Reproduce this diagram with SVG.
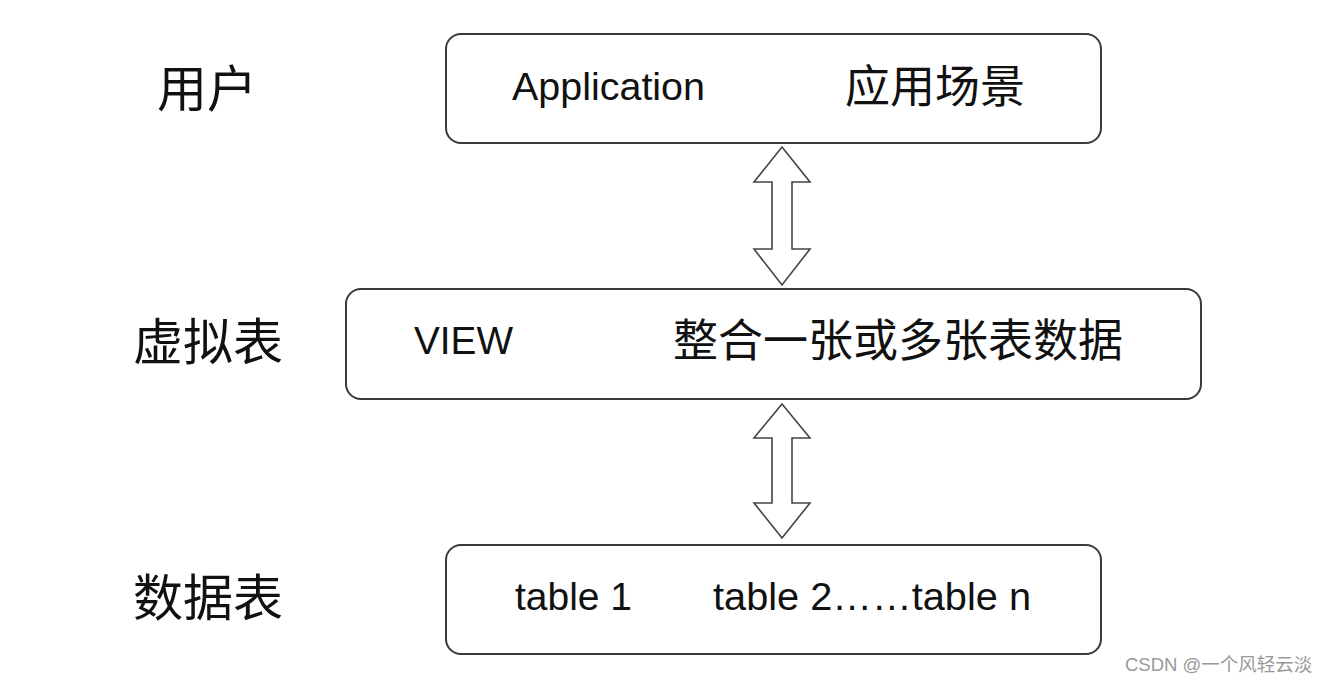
<svg xmlns="http://www.w3.org/2000/svg" width="1332" height="683" viewBox="0 0 1332 683">
<style>
.box{fill:#fff;stroke:#3a3a3a;stroke-width:2}
.arr{fill:#fff;stroke:#444;stroke-width:1.6;stroke-linejoin:miter}
.lbl{font-family:"Noto Sans CJK SC",sans-serif;font-size:50px;fill:#111}
.en{font-family:"Liberation Sans",Arial,sans-serif;font-size:38px;fill:#111}
.cn{font-family:"Noto Sans CJK SC",sans-serif;font-size:45px;fill:#111}
.wm{font-family:"Liberation Sans","Noto Sans CJK SC",sans-serif;font-size:18.5px;fill:#999}
</style>
<rect width="1332" height="683" fill="#fff"/>
<g id="label-user"><text class="lbl" x="207" y="85" text-anchor="middle" dominant-baseline="central">用户</text></g>
<g id="label-virtual"><text class="lbl" x="208" y="338" text-anchor="middle" dominant-baseline="central">虚拟表</text></g>
<g id="label-data"><text class="lbl" x="208" y="594" text-anchor="middle" dominant-baseline="central">数据表</text></g>
<g id="node-app">
<rect class="box" x="446" y="34" width="655" height="109" rx="15"/>
<text class="en" x="512" y="100" textLength="193" lengthAdjust="spacingAndGlyphs">Application</text>
<text class="cn" x="935" y="83" text-anchor="middle" dominant-baseline="central">应用场景</text>
</g>
<g id="node-view">
<rect class="box" x="346" y="289" width="855" height="110" rx="15"/>
<text class="en" x="414" y="354" textLength="99" lengthAdjust="spacingAndGlyphs">VIEW</text>
<text class="cn" x="898" y="337" text-anchor="middle" dominant-baseline="central">整合一张或多张表数据</text>
</g>
<g id="node-tables">
<rect class="box" x="446" y="545" width="655" height="109" rx="15"/>
<text class="en" x="515" y="610" textLength="117" lengthAdjust="spacingAndGlyphs">table 1</text>
<text class="en" x="713" y="610" textLength="318" lengthAdjust="spacingAndGlyphs">table 2……table n</text>
</g>
<g id="connectors">
<path class="arr" d="M782 147 L810 182 L792 182 L792 249 L810 249 L782 285 L754 249 L772 249 L772 182 L754 182 Z"/>
<path class="arr" d="M782 404 L810 438 L792 438 L792 503 L810 503 L782 538 L754 503 L772 503 L772 438 L754 438 Z"/>
</g>
<text class="wm" x="1125" y="671">CSDN @一个风轻云淡</text>
</svg>
